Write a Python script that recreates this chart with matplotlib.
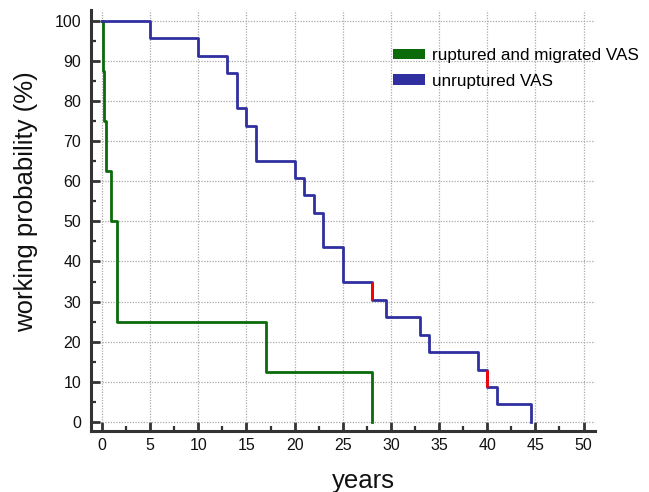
import matplotlib
matplotlib.use("Agg")
import matplotlib.pyplot as plt
from matplotlib.patches import Patch
from matplotlib.ticker import MultipleLocator

plt.rcParams['font.family'] = ['Liberation Sans', 'DejaVu Sans']

# Kaplan-Meier style survival of the two groups (years, %)
green_t = [0, 0.07, 0.2, 0.38, 0.94, 1.53, 17, 28]
green_s = [100, 87.5, 75, 62.5, 50, 25, 12.5, 0]

blue_t = [0, 5, 10, 13, 14, 15, 16, 20, 21, 22, 23, 25, 28, 29.5, 33, 34, 39, 40, 41, 44.5]
blue_s = [100, 95.65, 91.3, 87.0, 78.3, 73.9, 65.2, 60.9, 56.5, 52.2, 43.5, 34.8, 30.4,
          26.1, 21.7, 17.4, 13.0, 8.7, 4.35, 0]

# red marked drops on the unruptured curve
red_t = [28, 40]
red_top = [34.8, 13.0]
red_bot = [30.4, 8.7]

green_col = '#0b6b0b'
blue_col = '#2f2fa0'
spine_col = '#333333'

fig = plt.figure(figsize=(6.49, 4.92), dpi=100)
ax = fig.add_axes([0.140, 0.124, 0.777, 0.856])

ax.step(green_t, green_s, where='post', color=green_col, lw=2.0, zorder=3)
ax.step(blue_t, blue_s, where='post', color=blue_col, lw=2.0, zorder=4)
ax.vlines(red_t, red_bot, red_top, color='#ff0000', lw=2.0, zorder=5)

ax.set_xlim(-1.15, 51.2)
ax.set_ylim(-2.3, 102.8)

ax.xaxis.set_major_locator(MultipleLocator(5))
ax.xaxis.set_minor_locator(MultipleLocator(2.5))
ax.yaxis.set_major_locator(MultipleLocator(10))
ax.yaxis.set_minor_locator(MultipleLocator(5))

ax.grid(True, which='major', color='#aaaaaa', linestyle=(0, (1, 1.2)), lw=0.9)
ax.set_axisbelow(True)

for s in ['top', 'right']:
    ax.spines[s].set_visible(False)
for s in ['left', 'bottom']:
    ax.spines[s].set_color(spine_col)
    ax.spines[s].set_linewidth(2.2)

ax.tick_params(which='major', direction='in', length=6.5, width=2, color=spine_col,
               labelsize=11.5, labelcolor='#111111')
ax.tick_params(which='minor', direction='in', length=3.8, width=1.6, color=spine_col)
ax.tick_params(axis='x', which='major', pad=5)
ax.tick_params(axis='y', which='major', pad=7)

ax.set_xlabel('years', fontsize=18.5, color='#111111')
ax.set_ylabel('working probability (%)', fontsize=18.5, color='#111111')
ax.xaxis.set_label_coords(0.54, -0.09)
ax.yaxis.set_label_coords(-0.105, 0.545)

handles = [Patch(facecolor=green_col, edgecolor='none'),
           Patch(facecolor=blue_col, edgecolor='none')]
ax.legend(handles, ['ruptured and migrated VAS', 'unruptured VAS'],
          loc='upper left', bbox_to_anchor=(393 / 649, 1 - 48 / 492),
          bbox_transform=fig.transFigure, frameon=False, fontsize=12.3,
          handlelength=1.9, handleheight=0.55, handletextpad=0.4,
          labelspacing=0.62, borderpad=0, borderaxespad=0)

fig.savefig('out.png', dpi=100)
